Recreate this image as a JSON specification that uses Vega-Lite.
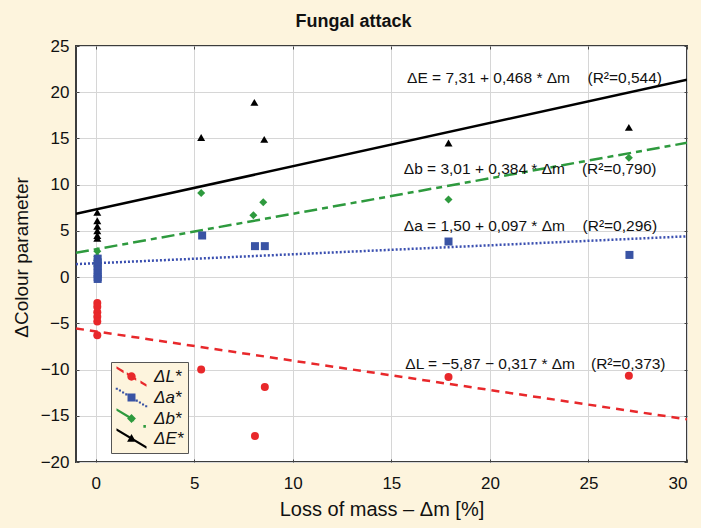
{
  "$schema": "https://vega.github.io/schema/vega-lite/v6.json",
  "width": 611,
  "height": 416,
  "autosize": {"type": "none"},
  "padding": {"left": 76, "top": 46, "right": 14, "bottom": 66},
  "background": "#fdf4dd",
  "config": {
    "font": "Liberation Sans",
    "view": {"stroke": "#3c3c3c", "strokeWidth": 2, "fill": "white"}
  },
  "title": {"text": "Fungal attack", "fontSize": 18, "fontWeight": "bold", "color": "#111", "dx": -28, "offset": 6},
  "datasets": {
    "pts": [
      {"series": "ΔE*", "x": 0.08, "y": 7.0}, {"series": "ΔE*", "x": 0.08, "y": 6.1}, {"series": "ΔE*", "x": 0.08, "y": 5.5},
      {"series": "ΔE*", "x": 0.08, "y": 5.0}, {"series": "ΔE*", "x": 0.08, "y": 4.5}, {"series": "ΔE*", "x": 0.08, "y": 4.2},
      {"series": "ΔE*", "x": 5.35, "y": 15.1}, {"series": "ΔE*", "x": 8.05, "y": 18.9}, {"series": "ΔE*", "x": 8.55, "y": 14.9},
      {"series": "ΔE*", "x": 17.9, "y": 14.5}, {"series": "ΔE*", "x": 27.05, "y": 16.2},
      {"series": "Δb*", "x": 0.08, "y": 2.8}, {"series": "Δb*", "x": 0.08, "y": 2.2}, {"series": "Δb*", "x": 0.08, "y": 1.8},
      {"series": "Δb*", "x": 0.08, "y": 1.5}, {"series": "Δb*", "x": 0.08, "y": 1.2},
      {"series": "Δb*", "x": 5.35, "y": 9.1}, {"series": "Δb*", "x": 8.0, "y": 6.7}, {"series": "Δb*", "x": 8.5, "y": 8.1},
      {"series": "Δb*", "x": 17.9, "y": 8.4}, {"series": "Δb*", "x": 27.05, "y": 12.9},
      {"series": "Δa*", "x": 0.1, "y": 2.0}, {"series": "Δa*", "x": 0.1, "y": 1.6}, {"series": "Δa*", "x": 0.1, "y": 1.2},
      {"series": "Δa*", "x": 0.1, "y": 0.8}, {"series": "Δa*", "x": 0.1, "y": 0.4}, {"series": "Δa*", "x": 0.1, "y": 0.0},
      {"series": "Δa*", "x": 0.1, "y": -0.2},
      {"series": "Δa*", "x": 5.4, "y": 4.5}, {"series": "Δa*", "x": 8.08, "y": 3.35}, {"series": "Δa*", "x": 8.58, "y": 3.35},
      {"series": "Δa*", "x": 17.9, "y": 3.85}, {"series": "Δa*", "x": 27.08, "y": 2.4},
      {"series": "ΔL*", "x": 0.08, "y": -2.8}, {"series": "ΔL*", "x": 0.08, "y": -3.2}, {"series": "ΔL*", "x": 0.08, "y": -3.8},
      {"series": "ΔL*", "x": 0.08, "y": -4.3}, {"series": "ΔL*", "x": 0.08, "y": -4.8}, {"series": "ΔL*", "x": 0.08, "y": -6.3},
      {"series": "ΔL*", "x": 5.35, "y": -10.0}, {"series": "ΔL*", "x": 8.08, "y": -17.2}, {"series": "ΔL*", "x": 8.58, "y": -11.9},
      {"series": "ΔL*", "x": 17.9, "y": -10.8}, {"series": "ΔL*", "x": 27.05, "y": -10.66}
    ],
    "fits": [
      {"series": "ΔE*", "x": -1, "y": 6.842}, {"series": "ΔE*", "x": 30, "y": 21.35},
      {"series": "Δb*", "x": -1, "y": 2.626}, {"series": "Δb*", "x": 30, "y": 14.53},
      {"series": "Δa*", "x": -1, "y": 1.403}, {"series": "Δa*", "x": 30, "y": 4.41},
      {"series": "ΔL*", "x": -1, "y": -5.553}, {"series": "ΔL*", "x": 30, "y": -15.38}
    ],
    "notes": [
      {"tx": 15.8, "ty": 21.55, "label": "ΔE = 7,31 + 0,468 * Δm"},
      {"tx": 24.95, "ty": 21.55, "label": "(R²=0,544)"},
      {"tx": 15.63, "ty": 11.66, "label": "Δb = 3,01 + 0,384 * Δm"},
      {"tx": 24.67, "ty": 11.66, "label": "(R²=0,790)"},
      {"tx": 15.63, "ty": 5.54, "label": "Δa = 1,50 + 0,097 * Δm"},
      {"tx": 24.7, "ty": 5.54, "label": "(R²=0,296)"},
      {"tx": 15.71, "ty": -9.4, "label": "ΔL = −5,87 − 0,317 * Δm"},
      {"tx": 25.13, "ty": -9.4, "label": "(R²=0,373)"}
    ]
  },
  "resolve": {
    "scale": {"shape": "independent"},
    "legend": {"color": "independent", "shape": "independent"},
    "axis": {"x": "independent", "y": "independent"}
  },
  "layer": [
    {
      "data": {"name": "fits"},
      "transform": [{"filter": "datum.series == 'ΔE*'"}],
      "mark": {"type": "line", "strokeWidth": 2.5, "clip": true, "color": "#000000"},
      "encoding": {
        "x": {"field": "x", "type": "quantitative",
          "scale": {"domain": [-1, 30], "nice": false, "zero": false},
          "axis": {"values": [0, 5, 10, 15, 20, 25, 30], "title": "Loss of mass – Δm [%]", "titleFontSize": 20, "titleFontWeight": "normal", "titleColor": "#111",
            "titleBaseline": "middle", "titleY": 47,
            "labelFontSize": 17, "labelColor": "#111", "labelPadding": 16, "tickSize": -3, "tickColor": "#444", "domain": false,
            "grid": true, "gridColor": "#d6d6d6", "gridWidth": 1}},
        "y": {"field": "y", "type": "quantitative",
          "scale": {"domain": [-20, 25], "nice": false, "zero": false},
          "axis": {"values": [-20, -15, -10, -5, 0, 5, 10, 15, 20, 25], "title": "ΔColour parameter", "titleFontSize": 19, "titleFontWeight": "normal", "titleColor": "#111",
            "titleBaseline": "middle", "titleX": -55, "titleY": 211,
            "labelFontSize": 17, "labelColor": "#111", "labelPadding": 10, "tickSize": -3, "tickColor": "#444", "domain": false,
            "grid": true, "gridColor": "#d6d6d6", "gridWidth": 1}}
      }
    },
    {
      "data": {"name": "fits"},
      "transform": [{"filter": "datum.series == 'Δb*'"}],
      "mark": {"type": "line", "strokeWidth": 2.5, "clip": true, "color": "#2e9a3e", "strokeDash": [13, 5, 6, 5]},
      "encoding": {
        "x": {"field": "x", "type": "quantitative", "axis": null},
        "y": {"field": "y", "type": "quantitative", "axis": null}
      }
    },
    {
      "data": {"name": "fits"},
      "transform": [{"filter": "datum.series == 'Δa*'"}],
      "mark": {"type": "line", "strokeWidth": 2.5, "clip": true, "color": "#3a4fb0", "strokeDash": [2, 2]},
      "encoding": {
        "x": {"field": "x", "type": "quantitative", "axis": null},
        "y": {"field": "y", "type": "quantitative", "axis": null}
      }
    },
    {
      "data": {"name": "fits"},
      "transform": [{"filter": "datum.series == 'ΔL*'"}],
      "mark": {"type": "line", "strokeWidth": 2.5, "clip": true, "color": "#e8282b", "strokeDash": [8, 6]},
      "encoding": {
        "x": {"field": "x", "type": "quantitative", "axis": null},
        "y": {"field": "y", "type": "quantitative", "axis": null}
      }
    },
    {
      "data": {"name": "pts"},
      "mark": {"type": "point", "filled": true, "opacity": 1, "size": 64},
      "encoding": {
        "x": {"field": "x", "type": "quantitative", "axis": null},
        "y": {"field": "y", "type": "quantitative", "axis": null},
        "color": {"field": "series", "type": "nominal",
          "scale": {"domain": ["ΔL*", "Δa*", "Δb*", "ΔE*"], "range": ["#e8282b", "#3953a4", "#2e9a3e", "#000000"]}, "legend": null},
        "shape": {"field": "series", "type": "nominal",
          "scale": {"domain": ["ΔL*", "Δa*", "Δb*", "ΔE*"], "range": ["circle", "square", "diamond", "triangle-up"]}, "legend": null}
      }
    },
    {
      "data": {"name": "pts"},
      "transform": [{"filter": "datum.x > 999"}],
      "mark": {"type": "point", "filled": true, "opacity": 1, "size": 441},
      "encoding": {
        "x": {"field": "x", "type": "quantitative", "axis": null},
        "y": {"field": "y", "type": "quantitative", "axis": null},
        "color": {"field": "series", "type": "nominal",
          "scale": {"domain": ["ΔL*", "Δa*", "Δb*", "ΔE*"], "range": ["#e8282b", "#3953a4", "#2e9a3e", "#000000"]},
          "legend": {"title": null, "orient": "none", "legendX": 35, "legendY": 316, "fillColor": "#fdf4dd", "strokeColor": "#555",
            "padding": 4, "symbolSize": 441, "symbolStrokeWidth": 0, "symbolOffset": 6, "labelOffset": 12, "rowPadding": 0,
            "labelFontSize": 17, "labelFontStyle": "italic", "labelColor": "#111",
            "encode": {"legend": {"update": {"strokeWidth": {"value": 2}}}}}},
        "shape": {"field": "series", "type": "nominal",
          "scale": {"domain": ["ΔL*", "Δa*", "Δb*", "ΔE*"], "range": [
            "M-1.43,-0.988L-0.75,-0.58L-0.75,-0.32L-1.43,-0.728ZM-0.45,-0.4L0.45,0.14L0.45,0.4L-0.45,-0.14ZM0.4,0A0.4,0.4 0 1,1 -0.4,0A0.4,0.4 0 1,1 0.4,0ZM0.85,0.38L1.43,0.728L1.43,0.988L0.85,0.64Z",
            "M-1.5,-0.94L-1.3,-0.94L-1.3,-0.74L-1.5,-0.74ZM-1.2,-0.76L-1,-0.76L-1,-0.56L-1.2,-0.56ZM-0.9,-0.58L-0.7,-0.58L-0.7,-0.38L-0.9,-0.38ZM-0.6,-0.4L-0.4,-0.4L-0.4,-0.2L-0.6,-0.2ZM-0.38,-0.38L0.38,-0.38L0.38,0.38L-0.38,0.38ZM0.4,0.2L0.6,0.2L0.6,0.4L0.4,0.4ZM0.7,0.38L0.9,0.38L0.9,0.58L0.7,0.58ZM1,0.56L1.2,0.56L1.2,0.76L1,0.76ZM1.3,0.74L1.5,0.74L1.5,0.94L1.3,0.94Z",
            "M-1.43,-0.988L0.25,0.02L0.25,0.28L-1.43,-0.728ZM0,-0.42L0.42,0L0,0.42L-0.42,0ZM1.13,0.63L1.37,0.63L1.37,0.87L1.13,0.87Z",
            "M-1.43,-0.988L1.43,0.728L1.43,0.988L-1.43,-0.728ZM0,-0.42L0.42,0.32L-0.42,0.32Z"
          ]},
          "legend": {"title": null, "orient": "none", "legendX": 35, "legendY": 316, "fillColor": "#fdf4dd", "strokeColor": "#555",
            "padding": 4, "symbolSize": 441, "symbolStrokeWidth": 0, "symbolOffset": 6, "labelOffset": 12, "rowPadding": 0,
            "labelFontSize": 17, "labelFontStyle": "italic", "labelColor": "#111",
            "encode": {"legend": {"update": {"strokeWidth": {"value": 2}}}}}}
      }
    },
    {
      "data": {"name": "notes"},
      "mark": {"type": "text", "align": "left", "baseline": "middle", "fontSize": 15.5, "color": "#111"},
      "encoding": {
        "x": {"field": "tx", "type": "quantitative", "axis": null},
        "y": {"field": "ty", "type": "quantitative", "axis": null},
        "text": {"field": "label"}
      }
    },
    {
      "data": {"name": "pts"},
      "mark": {"type": "point", "opacity": 0},
      "encoding": {
        "x": {"field": "x", "type": "quantitative",
          "axis": {"orient": "top", "values": [0, 5, 10, 15, 20, 25, 30], "labels": false, "title": null, "tickSize": -3, "tickColor": "#444", "domain": false, "grid": false}},
        "y": {"field": "y", "type": "quantitative",
          "axis": {"orient": "right", "values": [-20, -15, -10, -5, 0, 5, 10, 15, 20, 25], "labels": false, "title": null, "tickSize": -3, "tickColor": "#444", "domain": false, "grid": false}}
      }
    }
  ]
}
